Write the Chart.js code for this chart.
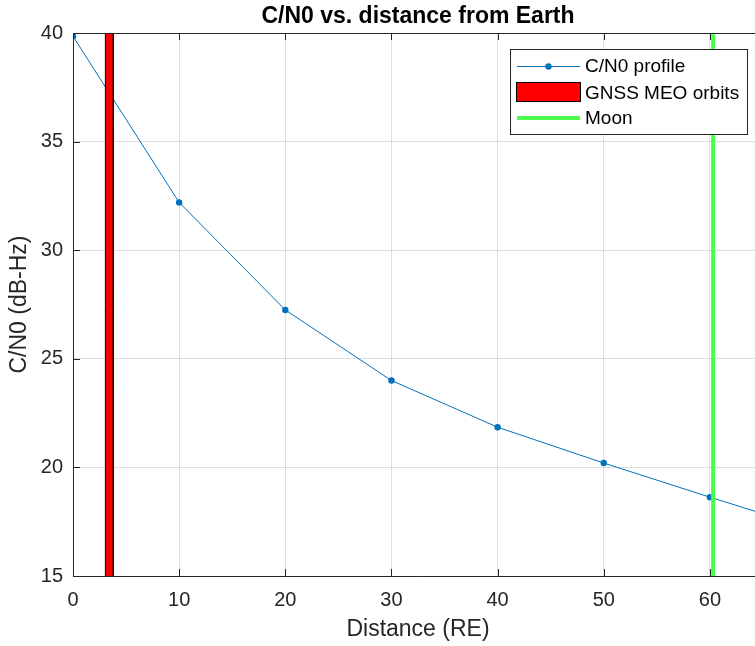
<!DOCTYPE html>
<html>
<head>
<meta charset="utf-8">
<script src="https://cdn.jsdelivr.net/npm/chart.js@4/dist/chart.umd.min.js"></script>
<style>
  html, body { margin: 0; padding: 0; background: #fff; overflow: hidden; }
  #wrap { width: 755px; height: 646px; overflow: hidden; }
</style>
</head>
<body>
<div id="wrap"><canvas id="grafica" width="775" height="646"></canvas></div>
<script>
// datos
const distanciaRE = [0, 10, 20, 30, 40, 50, 60, 70];
const perfilCN0 = [39.85, 32.2, 27.25, 24.0, 21.85, 20.2, 18.63, 17.1];
const ticksX = [0, 10, 20, 30, 40, 50, 60];
const ticksY = [15, 20, 25, 30, 35, 40];
const orbitasGNSS = [3.05, 3.8];   // desde - hasta (RE)
const distanciaLuna = 60.3;
const etiquetas = ['C/N0 profile', 'GNSS MEO orbits', 'Moon'];
const titulo = 'C/N0 vs. distance from Earth';

const colorEje = '#262626';
const fuente = "'Liberation Sans', Arial, Helvetica, sans-serif";

// Ejes tipo matlab: titulo centrado en el eje, borde superior y marcas hacia adentro
const ejesMatlab = {
    id: 'ejesMatlab',
    afterDatasetsDraw(chart) {
        const { ctx, chartArea: a, scales } = chart;
        ctx.save();
        ctx.strokeStyle = colorEje;
        ctx.lineWidth = 1;
        ctx.beginPath();
        ctx.moveTo(a.left, a.top + 0.5);
        ctx.lineTo(a.right, a.top + 0.5);
        ctx.moveTo(a.right - 0.5, a.top);
        ctx.lineTo(a.right - 0.5, a.bottom);
        ticksX.forEach(v => {
            const x = Math.round(scales.x.getPixelForValue(v)) + 0.5;
            ctx.moveTo(x, a.bottom); ctx.lineTo(x, a.bottom - 7);
            ctx.moveTo(x, a.top); ctx.lineTo(x, a.top + 7);
        });
        ticksY.forEach(v => {
            const y = Math.round(scales.y.getPixelForValue(v)) + 0.5;
            ctx.moveTo(a.left, y); ctx.lineTo(a.left + 7, y);
        });
        ctx.stroke();

        ctx.fillStyle = '#000';
        ctx.font = 'bold 23px ' + fuente;
        ctx.textAlign = 'center';
        ctx.textBaseline = 'alphabetic';
        ctx.fillText(titulo, (a.left + a.right) / 2, 23);
        ctx.restore();
    }
};

// Leyenda dentro del grafico (arriba a la derecha)
const leyenda = {
    id: 'leyenda',
    afterDraw(chart) {
        const ctx = chart.ctx;
        const x0 = 510, y0 = 49, w = 237, h = 85;
        ctx.save();
        ctx.fillStyle = '#fff';
        ctx.fillRect(x0, y0, w, h);
        ctx.strokeStyle = colorEje;
        ctx.lineWidth = 1;
        ctx.strokeRect(x0 + 0.5, y0 + 0.5, w, h);

        const filas = [66, 93, 118];
        // perfil
        ctx.strokeStyle = '#0072BD';
        ctx.beginPath();
        ctx.moveTo(517, filas[0] + 0.5);
        ctx.lineTo(580, filas[0] + 0.5);
        ctx.stroke();
        ctx.fillStyle = '#0072BD';
        ctx.beginPath();
        ctx.arc(548.5, filas[0] + 0.5, 3.2, 0, Math.PI * 2);
        ctx.fill();
        // orbitas
        ctx.fillStyle = '#ff0000';
        ctx.fillRect(517, 83, 63, 18);
        ctx.strokeStyle = '#000';
        ctx.strokeRect(516.5, 82.5, 64, 19);
        // luna
        ctx.strokeStyle = '#4dff4d';
        ctx.lineWidth = 4;
        ctx.beginPath();
        ctx.moveTo(517, filas[2]);
        ctx.lineTo(580, filas[2]);
        ctx.stroke();

        ctx.fillStyle = '#000';
        ctx.font = '19px ' + fuente;
        ctx.textBaseline = 'middle';
        etiquetas.forEach((t, i) => ctx.fillText(t, 585, filas[i] + 1));
        ctx.restore();
    }
};

const ctx = document.getElementById('grafica').getContext('2d');

const datos = {
    datasets: [
        {
            label: etiquetas[0],
            data: distanciaRE.map((d, i) => ({ x: d, y: perfilCN0[i] })),
            borderColor: '#0072BD',
            backgroundColor: '#0072BD',
            borderWidth: 1,
            pointRadius: 3.2,
            pointBorderWidth: 0,
            tension: 0,
            order: 3
        },
        {
            label: etiquetas[1],
            data: [
                { x: orbitasGNSS[0], y: 15 },
                { x: orbitasGNSS[0], y: 40 },
                { x: orbitasGNSS[1], y: 40 },
                { x: orbitasGNSS[1], y: 15 }
            ],
            borderColor: '#000',
            backgroundColor: '#ff0000',
            borderWidth: 1,
            pointRadius: 0,
            fill: 'start',
            order: 2
        },
        {
            label: etiquetas[2],
            data: [{ x: distanciaLuna, y: 15 }, { x: distanciaLuna, y: 40 }],
            borderColor: '#4dff4d',
            borderWidth: 4,
            pointRadius: 0,
            order: 1
        }
    ]
};

const opciones = {
    responsive: false,
    animation: false,
    devicePixelRatio: 1,
    layout: { padding: { left: 0, right: 12, top: 33, bottom: 0 } },
    plugins: {
        legend: { display: false },
        tooltip: { enabled: false },
        title: { display: false }
    },
    scales: {
        x: {
            type: 'linear',
            min: 0,
            max: 65,
            afterFit: s => { s.height = 70; },
            afterBuildTicks: s => { s.ticks = ticksX.map(v => ({ value: v })); },
            grid: { color: 'rgba(38,38,38,0.15)', drawTicks: false },
            border: { color: colorEje, width: 1 },
            ticks: { color: colorEje, font: { family: fuente, size: 20 }, padding: 12, maxRotation: 0 },
            title: {
                display: true,
                text: 'Distance (RE)',
                color: colorEje,
                font: { family: fuente, size: 23 },
                padding: { top: 0, bottom: 3 }
            }
        },
        y: {
            min: 15,
            max: 40,
            afterFit: s => { s.width = 73; },
            afterBuildTicks: s => { s.ticks = ticksY.map(v => ({ value: v })); },
            grid: { color: 'rgba(38,38,38,0.15)', drawTicks: false },
            border: { color: colorEje, width: 1 },
            ticks: { color: colorEje, font: { family: fuente, size: 20 }, padding: 10 },
            title: {
                display: true,
                text: 'C/N0 (dB-Hz)',
                color: colorEje,
                font: { family: fuente, size: 23 },
                padding: { top: 6, bottom: 0 }
            }
        }
    }
};

window.miGrafica = new Chart(ctx, {
    type: 'line',
    data: datos,
    options: opciones,
    plugins: [ejesMatlab, leyenda]
});
</script>
</body>
</html>
